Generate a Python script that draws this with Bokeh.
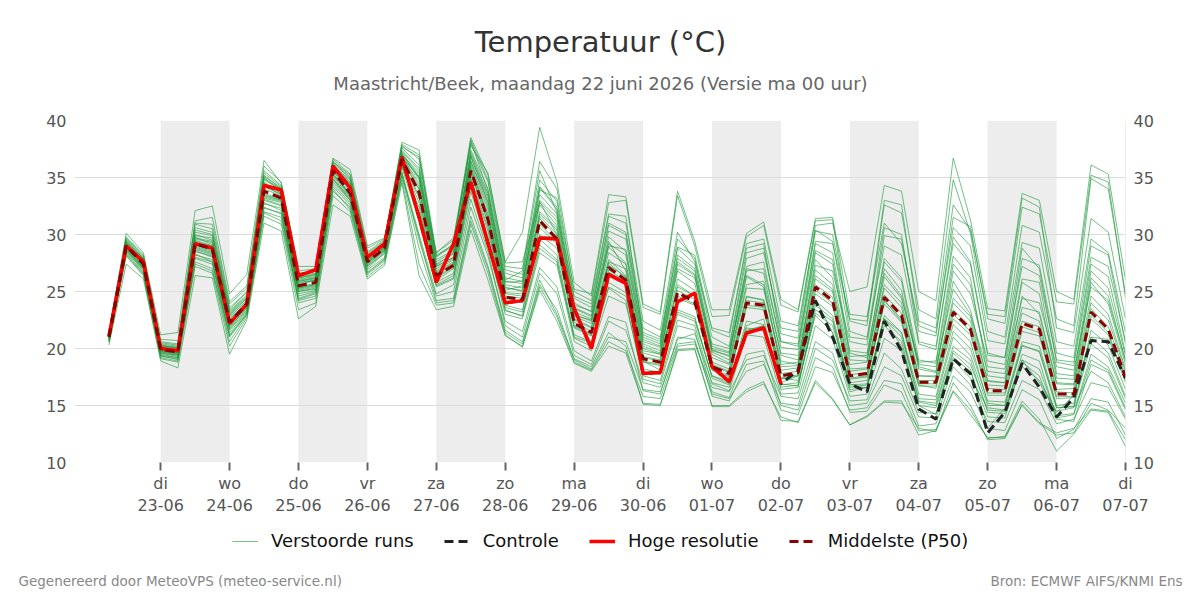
import pandas as pd
from bokeh.plotting import figure
from bokeh.layouts import column
from bokeh.models import (Range1d, LinearAxis, FixedTicker, BoxAnnotation, Label,
                          Legend, LegendItem, Span, Grid)
from bokeh.embed import file_html
from bokeh.resources import INLINE

# ---------------- data ----------------
times = pd.date_range("2026-06-22 06:00", periods=60, freq="6h")

tick_dates = ["2026-06-23", "2026-06-24", "2026-06-25", "2026-06-26", "2026-06-27",
              "2026-06-28", "2026-06-29", "2026-06-30", "2026-07-01", "2026-07-02",
              "2026-07-03", "2026-07-04", "2026-07-05", "2026-07-06", "2026-07-07"]
tick_labels = ["di\n23-06", "wo\n24-06", "do\n25-06", "vr\n26-06", "za\n27-06",
               "zo\n28-06", "ma\n29-06", "di\n30-06", "wo\n01-07", "do\n02-07",
               "vr\n03-07", "za\n04-07", "zo\n05-07", "ma\n06-07", "di\n07-07"]
shade_days = ["2026-06-23", "2026-06-25", "2026-06-27", "2026-06-29",
              "2026-07-01", "2026-07-03", "2026-07-05"]
y_ticks = [10, 15, 20, 25, 30, 35, 40]

hoge_resolutie = [21.1, 29.0, 27.6, 20.0, 19.8, 29.2, 28.8, 22.2, 23.9, 34.3,
                  33.9, 26.4, 26.9, 36.0, 34.1, 28.0, 29.2, 36.8, 31.5, 25.8,
                  29.2, 34.6, 29.2, 24.0, 24.2, 29.7, 29.6, 23.5, 20.0, 26.5,
                  25.7, 17.8, 17.9, 24.1, 24.85, 18.4, 17.1, 21.35, 21.8, 16.9]

controle = [21.1, 29.0, 27.6, 20.0, 19.8, 29.2, 28.8, 22.2, 23.9, 34.3,
            33.9, 26.4, 26.9, 36.0, 34.1, 28.0, 29.2, 36.8, 31.5, 25.8,
            29.2, 34.6, 29.2, 24.0, 24.2, 29.7, 29.6, 23.5, 20.0, 26.5,
            25.7, 17.8, 17.9, 24.1, 24.85, 18.4, 17.1, 21.35, 21.8, 16.9,
            18.1, 24.2, 21.0, 16.9, 16.2, 22.4, 19.8, 14.7, 13.8, 19.1,
            17.8, 12.6, 14.4, 18.7, 16.6, 14.0, 15.7, 20.7, 20.6, 17.4]

middelste_p50 = [21.0, 29.0, 27.4, 19.9, 19.7, 29.2, 28.7, 22.3, 23.9, 33.8,
                 33.2, 25.5, 25.8, 35.6, 33.6, 27.6, 28.8, 36.6, 33.7, 26.4,
                 27.3, 35.6, 31.3, 24.5, 24.3, 31.2, 29.6, 22.2, 21.4, 27.1,
                 26.0, 19.1, 18.8, 24.9, 24.1, 18.4, 17.8, 24.0, 23.8, 17.6,
                 17.9, 25.4, 24.2, 17.6, 17.8, 24.5, 22.9, 17.05, 17.05, 23.2,
                 21.7, 16.3, 16.3, 22.2, 21.7, 16.0, 16.0, 23.2, 21.7, 17.5]

# perturbed ensemble runs
m01 = [21.2, 29.4, 27.8, 20.1, 19.9, 29.8, 29.1, 22.8, 24.2, 34.5, 33.6, 25.9, 26.1, 35.9, 34.0, 27.9, 29.0, 37.1, 34.8, 27.0, 27.9, 36.5, 32.5, 25.3, 25.1, 32.6, 30.8, 23.0, 22.4, 28.9, 27.5, 20.2, 19.6, 26.8, 25.7, 19.5, 18.7, 26.3, 25.4, 18.9, 18.6, 27.8, 26.2, 19.0, 18.9, 27.0, 25.1, 18.2, 17.9, 25.9, 23.4, 17.1, 17.0, 24.6, 23.0, 16.9, 16.8, 25.8, 23.9, 18.6]
m02 = [20.8, 28.5, 26.9, 19.5, 19.2, 28.0, 27.6, 21.4, 23.2, 32.7, 32.3, 24.6, 25.0, 34.8, 33.0, 27.0, 28.4, 35.9, 31.2, 25.4, 26.1, 33.8, 29.0, 23.0, 22.6, 28.4, 27.3, 20.6, 19.8, 24.6, 23.9, 17.6, 17.2, 22.5, 22.0, 16.9, 16.3, 21.2, 21.0, 16.0, 16.1, 22.0, 20.8, 15.8, 16.0, 20.9, 19.8, 15.3, 15.0, 19.8, 18.6, 14.6, 14.5, 19.0, 18.2, 14.1, 14.3, 19.5, 18.4, 15.2]
m03 = [21.4, 29.8, 28.2, 20.6, 20.4, 30.9, 30.5, 23.6, 24.9, 35.4, 34.2, 26.4, 26.6, 36.3, 34.9, 28.3, 29.3, 37.6, 36.1, 27.8, 28.6, 37.4, 34.0, 26.6, 26.2, 34.8, 32.9, 24.4, 23.6, 31.0, 30.2, 21.8, 21.0, 29.6, 27.9, 21.0, 20.2, 28.4, 28.8, 21.3, 20.9, 30.3, 30.0, 22.4, 22.0, 32.6, 31.9, 23.4, 22.6, 34.8, 30.1, 21.5, 21.0, 30.8, 30.2, 22.6, 22.0, 34.9, 34.0, 24.8]
m04 = [20.5, 28.2, 26.5, 19.2, 18.9, 27.6, 27.0, 20.6, 22.9, 31.9, 31.2, 24.0, 24.4, 33.8, 32.4, 26.6, 27.9, 35.4, 29.5, 24.6, 25.0, 32.4, 28.1, 22.4, 21.5, 27.1, 25.4, 19.8, 18.9, 22.8, 22.3, 16.3, 16.0, 21.0, 20.8, 15.8, 15.4, 18.6, 18.9, 14.6, 14.2, 18.4, 17.9, 14.6, 14.8, 17.2, 16.9, 13.2, 13.4, 17.6, 16.2, 13.0, 12.8, 16.4, 15.5, 12.1, 12.9, 15.6, 15.3, 12.4]
m05 = [21.1, 29.1, 27.5, 20.3, 20.0, 30.2, 29.9, 23.2, 24.6, 35.2, 34.0, 26.2, 26.5, 36.0, 34.8, 28.0, 29.2, 37.9, 37.0, 28.1, 29.0, 38.2, 33.8, 26.0, 26.8, 35.6, 31.9, 23.6, 22.9, 29.4, 26.8, 18.9, 18.1, 23.2, 22.6, 17.6, 16.9, 22.4, 22.1, 16.9, 16.7, 23.1, 22.0, 17.0, 17.2, 24.2, 22.4, 16.8, 16.5, 22.1, 20.6, 15.2, 15.0, 20.3, 19.7, 14.8, 14.9, 21.6, 20.3, 16.4]
m06 = [20.9, 28.8, 27.1, 19.7, 19.4, 28.6, 28.0, 21.9, 23.5, 33.1, 32.6, 25.0, 25.3, 34.9, 33.2, 27.3, 28.6, 36.0, 32.4, 26.0, 27.0, 35.0, 30.6, 23.8, 23.4, 30.0, 28.8, 21.8, 21.1, 27.6, 27.0, 19.8, 19.5, 27.4, 26.4, 19.9, 19.3, 27.2, 27.6, 20.1, 19.9, 29.2, 28.4, 19.8, 19.6, 27.6, 25.9, 18.4, 18.0, 26.8, 24.8, 18.9, 18.6, 27.9, 27.3, 19.6, 19.2, 29.0, 28.2, 20.4]
m07 = [21.3, 29.6, 28.0, 20.4, 20.2, 31.2, 31.5, 24.1, 25.5, 36.0, 34.6, 26.8, 27.0, 36.6, 35.3, 28.8, 29.6, 38.1, 37.4, 28.4, 29.5, 38.5, 35.2, 27.6, 30.2, 39.4, 34.6, 25.8, 24.6, 32.8, 33.0, 23.6, 23.0, 33.4, 29.0, 22.8, 22.9, 29.8, 30.8, 23.8, 23.2, 31.2, 31.3, 21.5, 21.0, 29.0, 28.2, 20.4, 19.9, 29.8, 27.6, 19.6, 19.2, 28.8, 27.0, 18.8, 18.5, 27.4, 26.3, 19.6]
m08 = [21.0, 29.2, 27.6, 19.9, 19.6, 29.6, 29.3, 22.6, 24.0, 34.0, 33.4, 25.6, 26.0, 35.8, 33.9, 27.7, 28.9, 36.9, 34.5, 26.7, 27.6, 36.0, 31.8, 24.8, 24.6, 31.8, 30.4, 22.9, 22.5, 29.0, 28.7, 21.2, 20.6, 28.8, 27.4, 20.4, 20.0, 27.9, 28.4, 21.8, 21.5, 30.8, 31.0, 25.0, 25.4, 34.3, 33.8, 25.0, 24.2, 36.7, 31.3, 23.5, 23.3, 33.6, 33.0, 25.0, 24.3, 36.1, 35.3, 26.0]
m09 = [21.2, 29.3, 27.7, 20.2, 20.0, 30.0, 29.5, 23.0, 24.4, 34.8, 33.9, 26.1, 26.3, 36.2, 34.6, 28.1, 29.1, 37.3, 35.6, 27.4, 28.3, 37.0, 33.4, 25.9, 25.7, 33.5, 31.8, 23.8, 23.3, 30.3, 29.6, 20.8, 20.2, 27.9, 26.8, 20.2, 19.7, 27.0, 26.6, 19.4, 19.0, 27.3, 26.8, 20.6, 20.3, 29.9, 29.6, 21.5, 21.1, 31.5, 30.7, 22.6, 22.2, 32.4, 31.8, 24.1, 23.9, 35.2, 34.6, 24.4]
m10 = [20.7, 28.7, 27.0, 19.4, 19.0, 27.9, 27.4, 21.0, 23.0, 32.3, 31.9, 24.3, 24.8, 34.4, 32.8, 26.9, 28.0, 35.5, 30.0, 24.8, 25.6, 33.1, 28.5, 22.0, 21.0, 26.6, 24.8, 19.4, 18.6, 22.4, 21.6, 17.0, 16.6, 20.8, 21.3, 17.0, 16.6, 21.5, 22.0, 16.8, 17.0, 22.9, 21.4, 16.2, 16.6, 22.0, 20.6, 15.0, 14.8, 19.2, 18.0, 14.0, 13.9, 18.8, 17.6, 13.8, 13.6, 18.6, 17.9, 14.6]
m11 = [20.9, 28.9, 27.3, 19.8, 19.5, 28.9, 28.4, 22.0, 23.7, 33.5, 33.0, 25.3, 25.6, 35.4, 33.4, 27.5, 28.7, 36.4, 33.2, 26.2, 27.1, 35.4, 31.0, 24.2, 24.0, 30.6, 29.2, 21.9, 21.2, 26.7, 25.8, 18.8, 18.5, 24.4, 23.8, 18.1, 17.5, 23.6, 23.4, 17.3, 17.6, 24.8, 23.7, 17.3, 17.5, 23.9, 22.3, 16.7, 16.7, 22.6, 21.2, 15.9, 15.9, 21.5, 21.1, 15.6, 15.7, 22.6, 21.2, 17.0]
m12 = [20.6, 28.6, 26.8, 19.3, 19.1, 28.2, 27.8, 21.6, 23.3, 32.8, 32.1, 24.8, 25.1, 34.6, 33.0, 27.2, 28.3, 36.1, 31.8, 25.5, 26.2, 34.3, 29.4, 23.3, 22.9, 29.1, 27.8, 20.9, 20.2, 25.3, 24.2, 17.3, 16.9, 22.0, 21.6, 16.2, 15.7, 19.5, 19.8, 15.0, 14.6, 19.2, 18.4, 14.4, 14.5, 16.8, 16.2, 12.8, 12.9, 16.3, 14.6, 12.1, 12.3, 15.4, 13.8, 11.0, 12.5, 14.6, 14.4, 11.4]
m13 = [21.5, 30.1, 28.4, 21.2, 21.4, 32.1, 32.5, 24.8, 26.5, 36.5, 34.5, 27.2, 27.2, 36.7, 35.7, 29.0, 29.7, 37.0, 35.0, 28.4, 29.7, 37.8, 35.4, 27.5, 27.6, 32.9, 30.0, 22.6, 21.9, 27.8, 26.4, 19.3, 19.0, 25.6, 24.6, 18.6, 18.0, 24.5, 24.3, 18.1, 18.3, 26.1, 25.0, 18.2, 18.3, 25.3, 23.6, 17.6, 17.5, 24.0, 22.4, 16.8, 16.7, 23.1, 22.4, 16.4, 16.5, 24.0, 22.5, 18.0]
m14 = [20.3, 27.4, 26.1, 18.9, 18.3, 26.4, 26.2, 19.5, 22.5, 31.0, 30.3, 22.6, 23.7, 32.6, 31.6, 26.1, 27.3, 34.5, 26.4, 23.4, 23.7, 30.4, 26.0, 21.1, 20.2, 25.1, 22.4, 18.7, 18.0, 20.2, 19.6, 15.2, 15.1, 19.9, 20.0, 15.0, 15.0, 16.4, 17.1, 13.7, 13.6, 17.2, 15.6, 13.3, 14.1, 15.4, 15.4, 12.4, 12.8, 16.2, 14.2, 12.2, 12.2, 15.1, 13.5, 12.6, 13.0, 14.7, 14.5, 12.0]
m15 = [21.1, 29.5, 27.9, 20.5, 20.3, 30.6, 30.2, 23.4, 25.0, 35.0, 33.8, 26.0, 26.2, 35.5, 34.2, 27.8, 28.9, 36.8, 35.0, 27.2, 28.0, 36.9, 32.8, 25.6, 25.3, 33.0, 31.5, 23.5, 22.8, 29.8, 28.5, 20.6, 20.1, 27.6, 26.5, 19.7, 19.0, 25.6, 25.9, 19.6, 19.4, 28.4, 27.4, 19.3, 19.4, 27.9, 26.2, 19.0, 18.7, 27.4, 25.6, 18.4, 18.2, 26.1, 25.8, 17.8, 17.6, 26.8, 25.3, 19.4]
m16 = [21.0, 28.9, 27.2, 19.9, 19.8, 29.0, 28.5, 22.2, 23.8, 33.6, 33.1, 25.4, 25.7, 35.6, 33.5, 27.6, 28.8, 36.6, 33.9, 26.5, 27.4, 35.8, 31.4, 24.6, 24.4, 31.4, 29.8, 22.3, 21.5, 27.3, 26.3, 19.2, 18.9, 25.1, 24.3, 18.5, 17.9, 24.2, 24.0, 17.8, 18.0, 25.6, 24.5, 17.7, 17.9, 24.7, 23.1, 17.2, 17.2, 23.4, 21.9, 16.5, 16.4, 22.4, 21.9, 16.2, 16.1, 23.5, 21.9, 17.7]
m17 = [20.8, 28.4, 26.7, 19.6, 19.3, 27.4, 26.8, 21.2, 23.1, 32.0, 31.5, 24.4, 24.9, 34.2, 32.6, 26.7, 27.8, 35.2, 29.8, 24.2, 24.4, 31.6, 27.2, 21.6, 20.6, 25.6, 23.4, 19.0, 18.2, 21.0, 20.6, 16.4, 16.2, 20.4, 20.6, 16.0, 15.6, 18.0, 18.6, 15.2, 15.0, 20.0, 19.0, 15.4, 15.5, 19.6, 18.2, 14.4, 14.3, 19.0, 17.4, 14.8, 14.6, 18.4, 17.2, 14.5, 14.8, 18.0, 17.0, 14.0]
m18 = [21.2, 29.0, 27.4, 20.0, 19.7, 29.4, 29.0, 22.5, 24.1, 34.2, 33.5, 25.7, 26.0, 35.7, 33.8, 27.7, 28.9, 36.9, 34.2, 26.8, 27.8, 36.2, 32.2, 25.1, 25.5, 33.9, 33.2, 25.2, 24.8, 33.5, 33.3, 23.9, 23.2, 33.8, 29.4, 23.4, 23.4, 30.1, 31.1, 24.3, 23.4, 31.4, 31.5, 23.0, 22.8, 31.0, 29.2, 22.0, 21.4, 30.6, 29.0, 20.7, 20.4, 29.3, 28.8, 20.6, 20.2, 29.6, 28.4, 21.4]
m19 = [20.9, 29.1, 27.5, 19.8, 19.6, 29.1, 28.6, 22.1, 23.6, 33.2, 32.8, 25.1, 25.4, 35.1, 33.3, 27.4, 28.6, 36.3, 32.8, 25.8, 26.6, 34.8, 30.3, 23.6, 23.2, 29.6, 28.2, 21.2, 20.6, 25.8, 24.9, 18.0, 17.7, 23.4, 22.8, 17.4, 16.8, 22.0, 22.6, 16.4, 16.6, 23.8, 22.6, 16.6, 16.8, 22.9, 21.4, 16.0, 15.8, 21.5, 20.0, 15.4, 15.3, 20.6, 20.2, 15.0, 15.2, 21.0, 19.6, 15.8]
m20 = [21.3, 29.7, 28.1, 20.8, 20.7, 31.0, 30.9, 23.9, 25.3, 35.6, 34.3, 26.6, 26.8, 36.4, 35.0, 28.5, 29.5, 37.8, 36.6, 28.0, 29.2, 38.0, 34.6, 26.9, 26.5, 34.2, 32.4, 24.0, 23.2, 30.8, 30.0, 21.4, 20.8, 28.9, 28.2, 21.6, 21.0, 29.2, 29.6, 22.4, 22.0, 30.4, 29.4, 21.0, 20.8, 30.6, 30.0, 20.6, 20.2, 29.2, 27.4, 19.4, 19.2, 27.2, 26.4, 19.0, 18.8, 28.0, 27.2, 20.6]
m21 = [20.7, 28.3, 26.6, 19.4, 19.2, 28.3, 27.6, 21.1, 23.0, 32.4, 31.8, 24.2, 24.6, 34.0, 32.2, 26.5, 27.7, 35.1, 28.8, 24.0, 24.2, 31.2, 27.0, 21.4, 20.4, 26.0, 23.0, 19.1, 18.4, 21.4, 20.2, 15.1, 15.0, 19.8, 19.9, 14.9, 14.9, 16.2, 16.9, 14.0, 13.5, 17.0, 15.5, 13.3, 14.0, 15.3, 15.2, 13.0, 12.7, 17.0, 15.0, 12.0, 12.1, 15.0, 13.4, 12.4, 12.6, 15.2, 14.6, 13.0]
m22 = [21.1, 29.2, 27.6, 20.0, 19.8, 29.5, 29.0, 22.7, 24.2, 34.3, 33.5, 25.8, 26.0, 35.9, 34.2, 27.9, 29.1, 37.2, 35.1, 27.2, 28.0, 36.4, 32.9, 25.4, 25.0, 32.0, 30.6, 22.8, 22.2, 28.4, 27.4, 20.0, 19.5, 26.1, 25.1, 19.2, 18.6, 25.3, 25.2, 18.6, 18.8, 26.9, 25.6, 18.6, 18.8, 26.3, 24.4, 18.8, 18.9, 28.1, 26.2, 17.6, 17.4, 25.8, 24.8, 17.4, 17.3, 26.2, 24.6, 18.9]
m23 = [20.8, 28.7, 27.1, 19.7, 19.5, 28.5, 28.1, 21.8, 23.6, 33.0, 32.5, 25.0, 25.2, 34.9, 33.1, 27.2, 28.5, 36.2, 32.0, 25.6, 26.4, 34.6, 29.8, 23.4, 22.8, 28.8, 27.6, 21.0, 20.5, 25.4, 24.6, 18.2, 17.9, 23.0, 22.4, 17.6, 17.1, 21.8, 21.6, 16.6, 16.8, 23.4, 22.4, 16.4, 16.6, 22.6, 21.0, 15.6, 15.5, 21.0, 19.4, 15.0, 15.0, 20.2, 19.8, 14.8, 14.9, 20.4, 19.2, 15.6]
m24 = [21.2, 29.1, 27.6, 20.1, 19.9, 29.7, 29.4, 22.9, 24.4, 34.6, 33.6, 25.9, 26.2, 36.0, 34.4, 28.0, 29.0, 37.0, 35.4, 27.3, 28.4, 36.8, 33.2, 25.8, 25.9, 32.8, 31.2, 23.2, 22.6, 29.2, 28.2, 20.4, 19.8, 27.0, 26.2, 19.8, 19.4, 26.8, 27.0, 20.6, 20.4, 29.4, 29.2, 22.6, 22.4, 33.0, 32.6, 22.4, 21.8, 32.6, 30.4, 23.0, 22.8, 33.2, 32.4, 21.8, 21.4, 31.4, 30.2, 22.6]
m25 = [21.0, 28.8, 27.2, 19.8, 19.6, 28.8, 28.3, 22.1, 23.8, 33.4, 33.0, 25.3, 25.6, 35.3, 33.4, 27.5, 28.7, 36.5, 33.4, 26.3, 27.2, 35.5, 31.1, 24.4, 24.1, 30.9, 29.4, 22.0, 21.3, 26.9, 25.9, 18.9, 18.6, 24.6, 23.9, 18.2, 17.6, 23.8, 23.6, 17.4, 17.7, 25.1, 24.0, 17.4, 17.6, 24.2, 22.6, 16.9, 16.9, 23.0, 21.5, 16.1, 16.1, 21.9, 21.4, 15.8, 15.8, 22.9, 21.4, 17.2]
m26 = [20.9, 28.6, 27.0, 19.6, 19.4, 28.7, 28.2, 21.7, 23.4, 33.3, 32.9, 25.2, 25.5, 35.2, 33.6, 27.6, 28.8, 36.7, 34.0, 26.6, 27.5, 35.7, 31.6, 24.9, 24.8, 31.6, 30.0, 22.5, 21.8, 27.5, 26.2, 19.6, 19.2, 25.4, 24.6, 18.8, 18.2, 24.6, 24.2, 17.4, 17.2, 24.2, 22.9, 16.8, 16.9, 22.6, 21.4, 15.4, 15.2, 20.2, 19.0, 14.4, 14.3, 19.5, 18.9, 13.9, 14.2, 19.0, 18.1, 14.8]
m27 = [21.1, 29.0, 27.6, 20.0, 19.8, 29.3, 28.9, 22.2, 23.9, 34.4, 34.0, 26.5, 26.9, 36.1, 34.0, 28.0, 29.2, 36.8, 31.6, 25.9, 29.0, 34.7, 29.6, 24.1, 24.2, 29.8, 29.8, 23.4, 20.4, 26.6, 25.8, 17.9, 18.0, 24.2, 24.9, 18.4, 17.2, 21.6, 22.0, 17.0, 17.6, 24.4, 21.4, 16.9, 16.5, 22.6, 20.2, 15.0, 14.2, 19.6, 18.2, 13.0, 14.8, 19.0, 17.0, 14.4, 15.9, 21.0, 20.8, 17.6]
m28 = [21.3, 29.3, 27.8, 20.2, 20.1, 29.9, 29.7, 23.1, 24.5, 34.9, 34.0, 26.2, 26.4, 36.1, 34.5, 28.2, 29.2, 37.4, 35.8, 27.6, 28.5, 37.2, 33.6, 26.2, 25.9, 34.1, 32.2, 24.6, 23.9, 31.6, 31.0, 22.4, 21.6, 30.2, 27.6, 21.8, 21.4, 28.8, 29.2, 20.6, 20.2, 28.6, 27.8, 19.6, 19.2, 26.6, 24.6, 18.6, 18.4, 25.2, 23.0, 18.0, 17.8, 24.4, 24.0, 18.4, 18.1, 25.4, 24.2, 19.0]
m29 = [20.6, 28.1, 26.4, 19.1, 18.8, 27.2, 26.6, 20.2, 22.7, 31.6, 30.9, 23.4, 24.0, 33.4, 32.0, 26.3, 27.5, 34.8, 27.4, 23.8, 24.0, 30.9, 26.6, 21.2, 20.1, 25.4, 22.8, 18.8, 18.1, 20.6, 19.8, 15.8, 15.6, 20.2, 20.4, 16.6, 16.2, 19.0, 19.4, 15.8, 15.6, 20.6, 19.6, 15.0, 15.2, 18.4, 17.6, 14.0, 13.9, 18.4, 16.8, 13.6, 13.5, 17.2, 16.4, 13.4, 13.8, 17.0, 16.6, 13.8]
m30 = [21.2, 29.4, 27.9, 20.3, 20.1, 30.4, 30.0, 23.3, 24.7, 35.1, 34.1, 26.3, 26.5, 36.4, 35.2, 28.4, 29.4, 37.7, 36.8, 28.2, 29.1, 38.3, 34.8, 27.2, 27.0, 36.4, 34.0, 25.0, 24.2, 31.8, 31.6, 21.0, 20.4, 28.2, 27.0, 20.0, 19.6, 26.4, 25.6, 18.4, 18.5, 26.4, 25.2, 18.0, 18.2, 25.6, 24.0, 17.6, 17.6, 24.4, 22.8, 17.2, 17.0, 23.6, 23.2, 17.0, 16.9, 24.6, 23.0, 18.2]

perturbed_runs = [m01, m02, m03, m04, m05, m06, m07, m08, m09, m10,
                  m11, m12, m13, m14, m15, m16, m17, m18, m19, m20,
                  m21, m22, m23, m24, m25, m26, m27, m28, m29, m30]

# ---------------- helpers ----------------
def ms(t):
    return int(pd.Timestamp(t).value // 10**6)

t_ms = [ms(t) for t in times]
DAY = 86400000
x_start = ms("2026-06-21 18:00")
x_end = ms("2026-07-07 00:00")

W = 1200
TOP_H, MAIN_H, BOT_H = 100, 420, 80
FL, FR = 74, 1125              # frame left/right in canvas px
FT_LOCAL, FB_LOCAL = 20, 362   # frame top/bottom inside the main figure
FONT = "DejaVu Sans"

def no_align(fig):
    try:
        fig.frame_align = False
    except Exception:
        pass

# ---------------- header figure (title + subtitle) ----------------
p_top = figure(width=W, height=TOP_H, output_backend="svg", toolbar_location=None,
               x_range=Range1d(0, W), y_range=Range1d(TOP_H, 0),
               x_axis_type=None, y_axis_type=None, min_border=0)
p_top.outline_line_color = None
p_top.grid.visible = False
no_align(p_top)
p_top.add_layout(Label(x=600, y=41, text="Temperatuur (°C)", text_align="center",
                       text_baseline="middle", text_font=FONT, text_font_size="29px",
                       text_color="#333333"))
p_top.add_layout(Label(x=600, y=83,
                       text="Maastricht/Beek, maandag 22 juni 2026 (Versie ma 00 uur)",
                       text_align="center", text_baseline="middle", text_font=FONT,
                       text_font_size="18px", text_color="#666666"))

# ---------------- main chart ----------------
p = figure(width=W, height=MAIN_H, output_backend="svg", toolbar_location=None,
           x_range=Range1d(x_start, x_end), y_range=Range1d(10, 40),
           x_axis_type=None, y_axis_type=None,
           min_border_left=FL, min_border_right=W - FR,
           min_border_top=FT_LOCAL, min_border_bottom=MAIN_H - FB_LOCAL)
p.outline_line_color = None
p.background_fill_color = "white"
p.border_fill_color = "white"
no_align(p)

for d in shade_days:
    p.add_layout(BoxAnnotation(left=ms(d), right=ms(d) + DAY, fill_color="#ededed",
                               fill_alpha=1.0, line_color=None, level="image"))

yticker = FixedTicker(ticks=y_ticks)
for side in ("left", "right"):
    ax = LinearAxis(ticker=yticker, axis_line_color=None, major_tick_line_color=None,
                    major_tick_out=0, major_tick_in=0,
                    minor_tick_line_color=None, major_label_text_font=FONT,
                    major_label_text_font_size="16px", major_label_text_color="#555555",
                    major_label_standoff=8)
    p.add_layout(ax, side)
p.add_layout(Grid(dimension=1, ticker=yticker, grid_line_color="#dcdcdc", grid_line_width=1))
p.add_layout(Span(location=x_end, dimension="height", line_color="#dcdcdc", line_width=1))

tick_ms = [ms(d) for d in tick_dates]
xax = LinearAxis(ticker=FixedTicker(ticks=tick_ms),
                 major_label_overrides={t: lab for t, lab in zip(tick_ms, tick_labels)},
                 axis_line_color=None, major_tick_line_color="#666666", major_tick_line_width=2,
                 major_tick_out=8, major_tick_in=0, minor_tick_line_color=None,
                 major_label_text_font=FONT, major_label_text_font_size="16px",
                 major_label_text_color="#555555", major_label_standoff=3)
p.add_layout(xax, "below")

GREEN = "#1f9a3c"
RUN_STYLE = dict(line_color=GREEN, line_alpha=0.62, line_width=1)
CTRL_STYLE = dict(line_color="#222222", line_width=3, line_dash="9 5")
HR_STYLE = dict(line_color="#ff0000", line_width=3.5)
P50_STYLE = dict(line_color="#8b0000", line_width=3, line_dash="9 5")

p.multi_line(xs=[t_ms[:len(m)] for m in perturbed_runs], ys=perturbed_runs, **RUN_STYLE)
p.line(t_ms[:len(controle)], controle, **CTRL_STYLE)
p.line(t_ms[:len(hoge_resolutie)], hoge_resolutie, **HR_STYLE)
p.line(t_ms[:len(middelste_p50)], middelste_p50, **P50_STYLE)

# ---------------- footer figure (legend + credits) ----------------
p_bot = figure(width=W, height=BOT_H, output_backend="svg", toolbar_location=None,
               x_range=Range1d(0, W), y_range=Range1d(BOT_H, 0),
               x_axis_type=None, y_axis_type=None, min_border=0)
p_bot.outline_line_color = None
p_bot.grid.visible = False
no_align(p_bot)
nan = float("nan")
lr_runs = p_bot.line([nan], [nan], line_color="#3aa655", line_alpha=0.7, line_width=1)
lr_ctrl = p_bot.line([nan], [nan], **CTRL_STYLE)
lr_hr = p_bot.line([nan], [nan], **HR_STYLE)
lr_p50 = p_bot.line([nan], [nan], **P50_STYLE)
legend = Legend(items=[LegendItem(label="Verstoorde runs", renderers=[lr_runs]),
                       LegendItem(label="Controle", renderers=[lr_ctrl]),
                       LegendItem(label="Hoge resolutie", renderers=[lr_hr]),
                       LegendItem(label="Middelste (P50)", renderers=[lr_p50])],
                orientation="horizontal", location=(232, BOT_H - 31),
                label_text_font=FONT, label_text_font_size="18px", label_text_color="#111111",
                border_line_color=None, background_fill_alpha=0.0,
                glyph_width=26, glyph_height=20, label_standoff=13, spacing=30,
                margin=0, padding=0, label_height=20)
p_bot.add_layout(legend, "center")
p_bot.add_layout(Label(x=18, y=60, text="Gegenereerd door MeteoVPS (meteo-service.nl)",
                       text_align="left", text_baseline="middle", text_font=FONT,
                       text_font_size="13.5px", text_color="#888888"))
p_bot.add_layout(Label(x=1182, y=60, text="Bron: ECMWF AIFS/KNMI Ens",
                       text_align="right", text_baseline="middle", text_font=FONT,
                       text_font_size="13.5px", text_color="#888888"))

layout = column(p_top, p, p_bot)
open("out.html", "w").write(file_html(layout, INLINE))
